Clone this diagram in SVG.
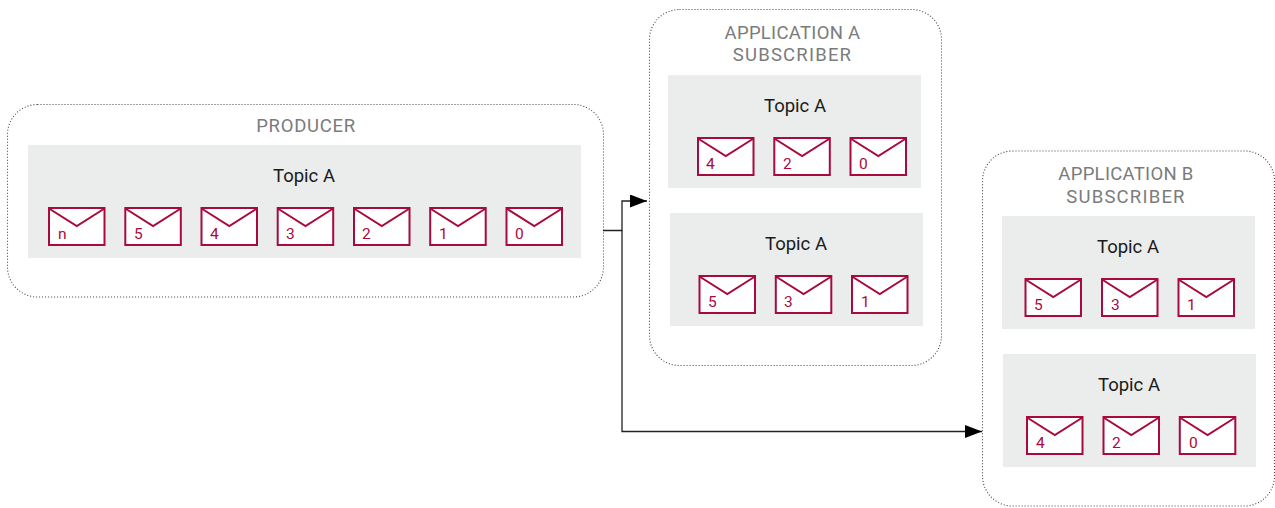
<svg xmlns="http://www.w3.org/2000/svg" width="1275" height="508" viewBox="0 0 1275 508">
<style>
text{font-family:Roboto,"Liberation Sans",sans-serif}
.box{fill:#fff;stroke:#444;stroke-width:1.1;stroke-dasharray:1 2}
.panel{fill:#ebecec}
.head{font-size:18.5px;fill:#7a7c7c;text-anchor:middle;letter-spacing:.7px}
.app{letter-spacing:.3px}
.sub{letter-spacing:1.2px}
.topic{font-size:18.5px;fill:#1a1a1a;text-anchor:middle}
.num{font-size:15.5px;fill:#a80a3c}
.env{fill:#fff;stroke:#a80a3c;stroke-width:2}
.flap{fill:none;stroke:#a80a3c;stroke-width:2}
.wire{fill:none;stroke:#222;stroke-width:1.3}
</style>
<defs>
<marker id="arrow" markerUnits="userSpaceOnUse" markerWidth="17" markerHeight="13" refX="17" refY="6.500" orient="auto"><path d="M0 0L17 6.500L0 13Z" fill="#000"/></marker>
<g id="mail"><rect class="env" x="0" y="0" width="55.500" height="37"/><path class="flap" d="M0 0.500L27.800 18L55.500 0.500"/></g>
</defs>
<g id="producer">
<rect class="box" x="7.500" y="104.500" width="596" height="192.500" rx="30"/>
<text class="head" x="306" y="131.500">PRODUCER</text>
<rect class="panel" x="28" y="145" width="553" height="113"/>
<text class="topic" x="304" y="182">Topic A</text>
<use href="#mail" x="49" y="208"/><text class="num" x="58" y="239">n</text>
<use href="#mail" x="125.300" y="208"/><text class="num" x="134" y="239">5</text>
<use href="#mail" x="201.500" y="208"/><text class="num" x="210" y="239">4</text>
<use href="#mail" x="277.700" y="208"/><text class="num" x="286" y="239">3</text>
<use href="#mail" x="354" y="208"/><text class="num" x="362" y="239">2</text>
<use href="#mail" x="430.200" y="208"/><text class="num" x="439" y="239">1</text>
<use href="#mail" x="506.500" y="208"/><text class="num" x="515" y="239">0</text>
</g>
<g id="app-a">
<rect class="box" x="649.500" y="9.500" width="292" height="356" rx="30"/>
<text class="head app" x="792.500" y="39">APPLICATION A</text>
<text class="head sub" x="792.500" y="61">SUBSCRIBER</text>
<rect class="panel" x="668" y="75" width="253" height="113"/>
<text class="topic" x="795" y="112">Topic A</text>
<use href="#mail" x="698" y="138"/><text class="num" x="706" y="169">4</text>
<use href="#mail" x="774.300" y="138"/><text class="num" x="783" y="169">2</text>
<use href="#mail" x="850.500" y="138"/><text class="num" x="859" y="169">0</text>
<rect class="panel" x="670" y="213" width="253" height="113"/>
<text class="topic" x="796" y="250">Topic A</text>
<use href="#mail" x="699.500" y="276"/><text class="num" x="708" y="307">5</text>
<use href="#mail" x="775.800" y="276"/><text class="num" x="784" y="307">3</text>
<use href="#mail" x="852" y="276"/><text class="num" x="861" y="307">1</text>
</g>
<g id="app-b">
<rect class="box" x="982.500" y="151" width="292" height="355" rx="30"/>
<text class="head app" x="1126" y="180">APPLICATION B</text>
<text class="head sub" x="1126" y="203">SUBSCRIBER</text>
<rect class="panel" x="1002" y="216" width="253" height="113"/>
<text class="topic" x="1128" y="253">Topic A</text>
<use href="#mail" x="1025.500" y="279"/><text class="num" x="1034" y="310">5</text>
<use href="#mail" x="1102" y="279"/><text class="num" x="1111" y="310">3</text>
<use href="#mail" x="1178.500" y="279"/><text class="num" x="1187" y="310">1</text>
<rect class="panel" x="1003" y="354" width="253" height="113"/>
<text class="topic" x="1129" y="391">Topic A</text>
<use href="#mail" x="1027" y="417"/><text class="num" x="1036" y="448">4</text>
<use href="#mail" x="1103.500" y="417"/><text class="num" x="1112" y="448">2</text>
<use href="#mail" x="1179.800" y="417"/><text class="num" x="1189" y="448">0</text>
</g>
<g id="connectors">
<path class="wire" d="M603 230.500H622V201H647" marker-end="url(#arrow)"/>
<path class="wire" d="M622 230.500V431.500H982" marker-end="url(#arrow)"/>
</g>
</svg>
